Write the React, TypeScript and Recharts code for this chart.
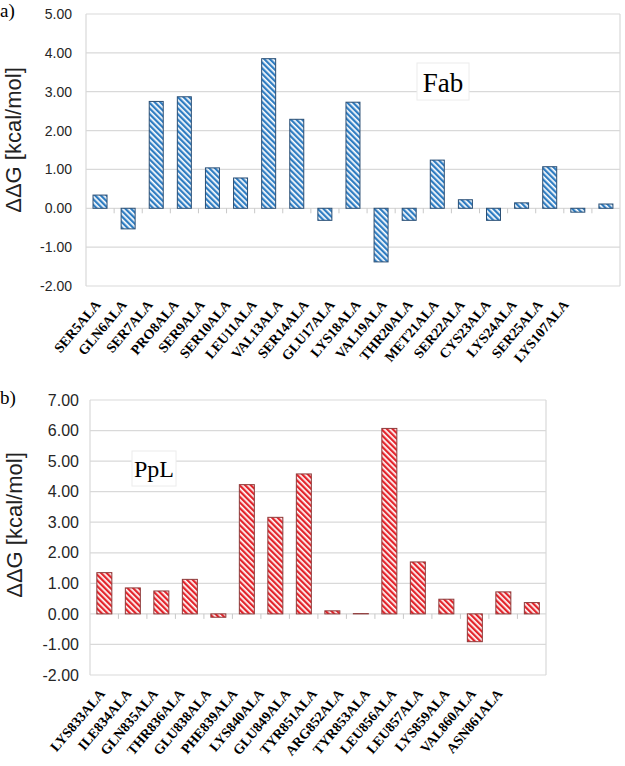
import React from 'react';
import { BarChart, Bar, XAxis, YAxis, CartesianGrid } from 'recharts';

// panel a) Fab
const fabResidues = [
  'SER5ALA', 'GLN6ALA', 'SER7ALA', 'PRO8ALA', 'SER9ALA', 'SER10ALA', 'LEU11ALA',
  'VAL13ALA', 'SER14ALA', 'GLU17ALA', 'LYS18ALA', 'VAL19ALA', 'THR20ALA', 'MET21ALA',
  'SER22ALA', 'CYS23ALA', 'LYS24ALA', 'SER25ALA', 'LYS107ALA',
];
const fabDdg = [
  0.34, -0.53, 2.75, 2.87, 1.04, 0.78, 3.85, 2.29, -0.31, 2.73, -1.38, -0.31, 1.24,
  0.22, -0.31, 0.14, 1.07, -0.1, 0.11,
];
const fabTicks = [-2, -1, 0, 1, 2, 3, 4, 5];

// panel b) PpL
const pplResidues = [
  'LYS833ALA', 'ILE834ALA', 'GLN835ALA', 'THR836ALA', 'GLU838ALA', 'PHE839ALA',
  'LYS840ALA', 'GLU849ALA', 'TYR851ALA', 'ARG852ALA', 'TYR853ALA', 'LEU856ALA',
  'LEU857ALA', 'LYS859ALA', 'VAL860ALA', 'ASN861ALA',
];
const pplDdg = [
  1.35, 0.85, 0.75, 1.13, -0.11, 4.23, 3.16, 4.58, 0.1, 0.01, 6.07, 1.7, 0.48, -0.91,
  0.72, 0.37,
];
const pplTicks = [-2, -1, 0, 1, 2, 3, 4, 5, 6, 7];

const fabData = fabResidues.map((name, i) => ({ name, ddg: fabDdg[i] }));
const pplData = pplResidues.map((name, i) => ({ name, ddg: pplDdg[i] }));

const GRID = '#d9d9d9';

const ResidueTick = (props: any) => {
  const { x, y, payload, size } = props;
  return (
    <g transform={`translate(${x + 1.5},${y + 19})`}>
      <text
        textAnchor="end"
        transform="rotate(-50)"
        fontFamily="'Liberation Serif', 'Times New Roman', serif"
        fontWeight="bold"
        fontSize={size}
        fill="#000"
      >
        {payload.value}
      </text>
    </g>
  );
};

// hatched bar + the small excel-style tick on the zero line between categories
const HatchBar = (props: any) => {
  const { x, y, width, height, fill, stroke, index, gapRatio } = props;
  const zeroY = y + height;
  const band = width / (1 - 2 * gapRatio);
  const edge = x + width / 2 - band / 2;
  return (
    <g>
      {index > 0 && <line x1={edge} x2={edge} y1={zeroY} y2={zeroY + 5} stroke="#c8c8c8" strokeWidth={1} />}
      <rect
        x={x}
        y={Math.min(y, zeroY)}
        width={width}
        height={Math.abs(height)}
        fill={fill}
        stroke={stroke}
        strokeWidth={1}
      />
    </g>
  );
};

const frameLines = ({ offset }: any) => [offset.left, offset.left + offset.width];

function Panel({ data, ticks, id, fill, stroke, w, h, margin, yWidth, tickMargin, tickFont, labelPad, gap, labelSize, xHeight }: any) {
  return (
    <BarChart width={w} height={h} data={data} margin={margin} barCategoryGap={`${gap * 100}%`}>
      <defs>
        <pattern id={id} patternUnits="userSpaceOnUse" width="4" height="4" patternTransform="rotate(-45)">
          <rect width="4" height="4" fill="#fff" />
          <rect width="2.3" height="4" fill={fill} />
        </pattern>
      </defs>
      <CartesianGrid stroke={GRID} strokeWidth={1.2} verticalCoordinatesGenerator={frameLines} />
      <XAxis xAxisId="bars" dataKey="name" hide height={0} />
      <XAxis
        xAxisId="labels"
        dataKey="name"
        interval={0}
        height={xHeight}
        axisLine={false}
        tickLine={false}
        tickSize={0}
        tickMargin={0}
        padding={labelPad}
        tick={(p: any) => <ResidueTick {...p} size={labelSize} />}
      />
      <YAxis
        width={yWidth}
        domain={[ticks[0], ticks[ticks.length - 1]]}
        ticks={ticks}
        interval={0}
        axisLine={false}
        tickLine={false}
        tickSize={0}
        tickMargin={tickMargin}
        tickFormatter={(v: number) => v.toFixed(2)}
        tick={{ fontFamily: "'Liberation Sans', Arial, sans-serif", fontSize: tickFont, fill: '#262626' }}
      />
      <Bar
        xAxisId="bars"
        dataKey="ddg"
        fill={`url(#${id})`}
        stroke={stroke}
        shape={(p: any) => <HatchBar {...p} gapRatio={gap} />}
        isAnimationActive={false}
      />
    </BarChart>
  );
}

export default function App() {
  const serif = "'Liberation Serif', 'Times New Roman', serif";
  const sans = "'Liberation Sans', Arial, sans-serif";
  return (
    <div style={{ position: 'absolute', left: 0, top: 0, width: 625, height: 766, background: '#fff', overflow: 'hidden' }}>
      <div style={{ position: 'absolute', left: 0, top: 0 }}>
        <Panel
          data={fabData}
          ticks={fabTicks}
          id="fabStripe"
          fill="#2f7dc2"
          stroke="#2a4f75"
          w={625}
          h={380}
          margin={{ top: 14, right: 5, left: 0, bottom: 0 }}
          yWidth={86}
          tickMargin={14}
          tickFont={14}
          labelPad={{ left: 1, right: 39 }}
          gap={0.25}
          labelSize={14}
          xHeight={94}
        />
      </div>
      <div style={{ position: 'absolute', left: 0, top: 383 }}>
        <Panel
          data={pplData}
          ticks={pplTicks}
          id="pplStripe"
          fill="#e3242b"
          stroke="#8e3a3a"
          w={625}
          h={383}
          margin={{ top: 17, right: 79, left: 0, bottom: 0 }}
          yWidth={90}
          tickMargin={11}
          tickFont={16}
          labelPad={{ left: 1, right: 31 }}
          gap={0.24}
          labelSize={14}
          xHeight={91}
        />
      </div>
      <svg width={625} height={766} style={{ position: 'absolute', left: 0, top: 0, pointerEvents: 'none' }}>
        <text x={0} y={17} fontFamily={serif} fontSize={19} fill="#000">a)</text>
        <text x={0} y={404} fontFamily={serif} fontSize={19} fill="#000">b)</text>
        <text x={13} y={140} transform="rotate(-90 13 140)" textAnchor="middle" dominantBaseline="central" fontFamily={sans} fontSize={22} fill="#222">ΔΔG [kcal/mol]</text>
        <text x={14} y={525} transform="rotate(-90 14 525)" textAnchor="middle" dominantBaseline="central" fontFamily={sans} fontSize={22} fill="#222">ΔΔG [kcal/mol]</text>
        <rect x={417} y={63} width={52} height={37} fill="#fff" stroke="#ececec" />
        <text x={443} y={92} textAnchor="middle" fontFamily={serif} fontSize={27} fill="#000">Fab</text>
        <rect x={132} y={451} width={44} height={35} fill="#fff" stroke="#ececec" />
        <text x={154} y={477} textAnchor="middle" fontFamily={serif} fontSize={24} fill="#000">PpL</text>
      </svg>
    </div>
  );
}
